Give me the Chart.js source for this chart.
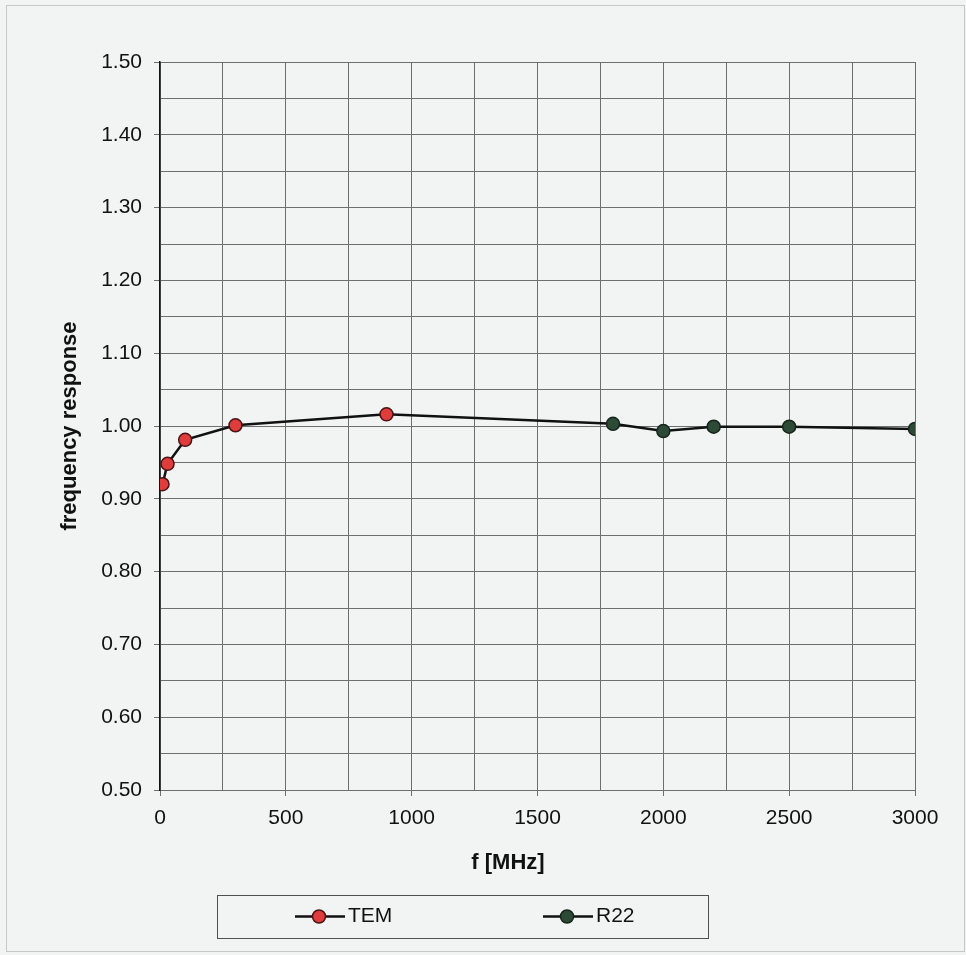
<!DOCTYPE html>
<html>
<head>
<meta charset="utf-8">
<script src="https://cdn.jsdelivr.net/npm/chart.js@4.4.1/dist/chart.umd.min.js"></script>
<style>
  html, body { margin: 0; padding: 0; background: #f2f4f3; }
  #wrap { width: 966px; height: 955px; position: relative; }
</style>
</head>
<body>
<div id="wrap"><canvas id="c" width="966" height="955"></canvas></div>
<script>
// ---- data ----
const seriesNames = ['TEM', 'R22'];
const freqTEM = [10, 30, 100, 300, 900];
const respTEM = [0.920, 0.948, 0.981, 1.001, 1.016];
const freqR22 = [1800, 2000, 2200, 2500, 3000];
const respR22 = [1.003, 0.993, 0.999, 0.999, 0.996];
const xTickLabels = [0, 500, 1000, 1500, 2000, 2500, 3000];
const yTickLabels = [0.50, 0.60, 0.70, 0.80, 0.90, 1.00, 1.10, 1.20, 1.30, 1.40, 1.50];
const xAxisTitle = 'f [MHz]';
const yAxisTitle = 'frequency response';

// ---- styles ----
const FONT = '"Liberation Sans", Arial, sans-serif';
const colors = {
  TEM: { fill: '#e03c3c', border: '#4a1414' },
  R22: { fill: '#2c4a36', border: '#15251b' }
};

const temPts = freqTEM.map((f, i) => ({ x: f, y: respTEM[i] }));
// R22 line continues from the last TEM point (connecting segment, no marker there)
const r22Pts = [temPts[temPts.length - 1]].concat(freqR22.map((f, i) => ({ x: f, y: respR22[i] })));

const bgPlugin = {
  id: 'bg',
  beforeDraw(chart) {
    const ctx = chart.ctx;
    ctx.save();
    ctx.fillStyle = '#f2f4f3';
    ctx.fillRect(0, 0, chart.width, chart.height);
    ctx.strokeStyle = '#c4c8c6';
    ctx.lineWidth = 1;
    ctx.strokeRect(6.5, 5.5, 958, 946);
    ctx.restore();
  }
};

const legendPlugin = {
  id: 'boxLegend',
  afterDraw(chart) {
    const ctx = chart.ctx;
    ctx.save();
    // x axis title (sits slightly left of the plot centre in the original)
    ctx.fillStyle = '#111';
    ctx.font = 'bold 22px ' + FONT;
    ctx.textAlign = 'center';
    ctx.textBaseline = 'middle';
    ctx.fillText(xAxisTitle, 508, 863);

    ctx.strokeStyle = '#505050';
    ctx.lineWidth = 1;
    ctx.strokeRect(217.5, 895.5, 491, 43);
    const items = [
      { name: seriesNames[0], x0: 295, c: colors.TEM },
      { name: seriesNames[1], x0: 543, c: colors.R22 }
    ];
    const cy = 916.5;
    items.forEach(it => {
      ctx.strokeStyle = '#111';
      ctx.lineWidth = 2.5;
      ctx.beginPath();
      ctx.moveTo(it.x0, cy);
      ctx.lineTo(it.x0 + 50, cy);
      ctx.stroke();
      ctx.beginPath();
      ctx.arc(it.x0 + 24, cy, 6.5, 0, Math.PI * 2);
      ctx.fillStyle = it.c.fill;
      ctx.fill();
      ctx.lineWidth = 1.5;
      ctx.strokeStyle = it.c.border;
      ctx.stroke();
      ctx.fillStyle = '#111';
      ctx.font = '21px ' + FONT;
      ctx.textAlign = 'left';
      ctx.textBaseline = 'middle';
      ctx.fillText(it.name, it.x0 + 53, cy);
    });
    ctx.restore();
  }
};

new Chart(document.getElementById('c'), {
  type: 'scatter',
  data: {
    datasets: [
      {
        label: seriesNames[0],
        data: temPts,
        showLine: true,
        borderColor: '#111',
        borderWidth: 2.5,
        pointRadius: 6.5,
        pointBackgroundColor: colors.TEM.fill,
        pointBorderColor: colors.TEM.border,
        pointBorderWidth: 1.5,
        order: 1
      },
      {
        label: seriesNames[1],
        data: r22Pts,
        showLine: true,
        borderColor: '#111',
        borderWidth: 2.5,
        pointRadius: (ctx) => ctx.dataIndex === 0 ? 0 : 6.5,
        pointBackgroundColor: colors.R22.fill,
        pointBorderColor: colors.R22.border,
        pointBorderWidth: 1.5,
        order: 2
      }
    ]
  },
  options: {
    responsive: false,
    animation: false,
    layout: { padding: { left: 0, right: 51, top: 62, bottom: 80 } },
    plugins: { legend: { display: false }, tooltip: { enabled: false } },
    scales: {
      x: {
        type: 'linear',
        min: 0, max: 3000,
        afterBuildTicks(scale) {
          const t = [];
          for (let v = 0; v <= 3000; v += 250) t.push({ value: v });
          scale.ticks = t;
        },
        ticks: {
          autoSkip: false,
          maxRotation: 0,
          padding: 10,
          color: '#111',
          font: { family: FONT, size: 21 },
          callback: (v) => xTickLabels.includes(v) ? String(v) : ''
        },
        grid: {
          color: '#6e6e6e',
          lineWidth: 1,
          tickLength: 6,
          tickColor: (ctx) => (ctx.tick && xTickLabels.includes(ctx.tick.value)) ? '#6e6e6e' : 'rgba(0,0,0,0)'
        },
        border: { color: '#6e6e6e', width: 1 },
        title: { display: false, text: xAxisTitle },
        afterFit(scale) { scale.height = 85; }
      },
      y: {
        type: 'linear',
        min: 0.5, max: 1.5,
        afterBuildTicks(scale) {
          const t = [];
          for (let i = 0; i <= 20; i++) t.push({ value: 0.5 + i * 0.05 });
          scale.ticks = t;
        },
        ticks: {
          autoSkip: false,
          padding: 12,
          color: '#111',
          font: { family: FONT, size: 21 },
          callback: (v) => {
            const m = yTickLabels.find(y => Math.abs(y - v) < 1e-6);
            return m !== undefined ? m.toFixed(2) : '';
          }
        },
        grid: {
          color: '#6e6e6e',
          lineWidth: 1,
          tickLength: 6,
          tickColor: (ctx) => (ctx.tick && yTickLabels.some(y => Math.abs(y - ctx.tick.value) < 1e-6)) ? '#6e6e6e' : 'rgba(0,0,0,0)'
        },
        border: { color: '#111', width: 1.5 },
        title: {
          display: true,
          text: yAxisTitle,
          color: '#111',
          font: { family: FONT, size: 22, weight: 'bold' },
          padding: { top: 57, bottom: 0 }
        },
        afterFit(scale) { scale.width = 160; }
      }
    }
  },
  plugins: [bgPlugin, legendPlugin]
});
</script>
</body>
</html>
